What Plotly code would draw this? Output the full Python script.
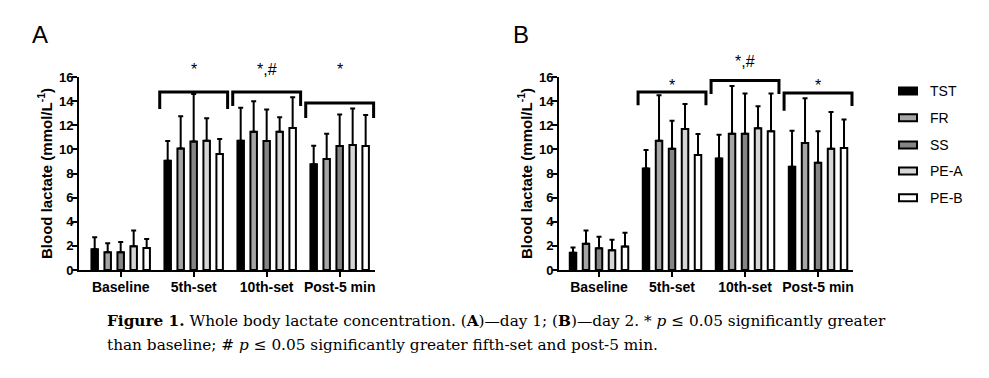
import plotly.graph_objects as go

# ---------------- data ----------------
categories = ["Baseline", "5th-set", "10th-set", "Post-5 min"]
series_names = ["TST", "FR", "SS", "PE-A", "PE-B"]

# Panel A (day 1): means and upper SD
A_TST = [1.72, 9.06, 10.72, 8.76]
A_FR = [1.47, 10.08, 11.47, 9.20]
A_SS = [1.47, 10.66, 10.69, 10.28]
A_PEA = [1.97, 10.72, 11.47, 10.36]
A_PEB = [1.83, 9.61, 11.77, 10.28]
A_TST_sd = [1.00, 1.64, 2.74, 1.54]
A_FR_sd = [0.75, 2.66, 2.52, 2.10]
A_SS_sd = [0.86, 3.94, 2.61, 2.62]
A_PEA_sd = [1.31, 1.86, 1.19, 3.02]
A_PEB_sd = [0.75, 1.25, 2.55, 2.57]

# Panel B (day 2)
B_TST = [1.42, 8.42, 9.25, 8.56]
B_FR = [2.17, 10.72, 11.30, 10.53]
B_SS = [1.80, 10.06, 11.30, 8.89]
B_PEA = [1.64, 11.69, 11.75, 10.06]
B_PEB = [1.94, 9.53, 11.50, 10.11]
B_TST_sd = [0.44, 1.52, 1.97, 2.99]
B_FR_sd = [1.11, 3.77, 3.96, 3.71]
B_SS_sd = [0.95, 2.32, 3.33, 2.61]
B_PEA_sd = [0.86, 2.08, 1.82, 3.04]
B_PEB_sd = [1.14, 1.74, 3.13, 2.36]

y_ticks = [0, 2, 4, 6, 8, 10, 12, 14, 16]

# significance labels per category (Baseline has none)
A_sig = ["", "*", "*,#", "*"]
B_sig = ["", "*", "*,#", "*"]

# ---------------- styling ----------------
fills = ["#000000", "#a6a6a6", "#858585", "#d6d6d6", "#ffffff"]
W, H = 989, 378
OFF = 8  # page body margin offset

def px(x):
    return (x - OFF) / W

def py(y):
    return 1 - (y - OFF) / H

# plot-area geometry (screen pixels)
A_dom = (79, 375)
B_dom = (559, 853)
A_rng = (-0.571, 3.484)
B_rng = (-0.548, 3.479)
y_top_px, y_bot_px = 77, 270
y_dom = [py(y_bot_px), py(y_top_px)]

def ypaper(v):
    return y_dom[0] + v / 16 * (y_dom[1] - y_dom[0])

fig = go.Figure()

panelA = [A_TST, A_FR, A_SS, A_PEA, A_PEB]
panelA_sd = [A_TST_sd, A_FR_sd, A_SS_sd, A_PEA_sd, A_PEB_sd]
panelB = [B_TST, B_FR, B_SS, B_PEA, B_PEB]
panelB_sd = [B_TST_sd, B_FR_sd, B_SS_sd, B_PEA_sd, B_PEB_sd]

xs = list(range(len(categories)))

for vals_list, sd_list, xa, ya in [(panelA, panelA_sd, "x", "y"), (panelB, panelB_sd, "x2", "y2")]:
    for i, (name, vals, sd) in enumerate(zip(series_names, vals_list, sd_list)):
        fig.add_trace(go.Bar(
            x=xs, y=vals, name=name, xaxis=xa, yaxis=ya, showlegend=False,
            marker=dict(color=fills[i], line=dict(color="black", width=2)),
            error_y=dict(type="data", symmetric=False, array=sd,
                         arrayminus=[0] * len(sd), color="black",
                         thickness=2, width=2.5),
        ))

xtickfont = dict(family="Liberation Sans", size=14, color="black", weight="bold")
ytickfont = dict(family="Liberation Sans", size=13, color="black", weight="bold")
common_x = dict(showline=True, linewidth=2, linecolor="black", ticks="outside",
                ticklen=5, tickwidth=2, tickcolor="black", showgrid=False, automargin=False,
                zeroline=False, tickvals=xs, ticktext=categories, tickfont=xtickfont,
                ticklabelstandoff=-2)
common_y = dict(showline=True, linewidth=2, linecolor="black", ticks="outside",
                ticklen=5, tickwidth=2, tickcolor="black", showgrid=False, automargin=False,
                zeroline=False, range=[0, 16], tickvals=y_ticks, tickfont=ytickfont,
                ticklabelstandoff=-4,
                title=dict(text="Blood lactate (mmol/L<sup>-1</sup>)",
                           font=dict(family="Liberation Sans", size=15, color="black",
                                     weight="bold"), standoff=3))

fig.update_layout(
    width=W, height=H, margin=dict(l=0, r=0, t=0, b=0),
    paper_bgcolor="white", plot_bgcolor="white",
    barmode="group", bargap=0.11, bargroupgap=0.5,
    xaxis=dict(domain=[px(A_dom[0]), px(A_dom[1])], range=list(A_rng), anchor="y", **common_x),
    yaxis=dict(domain=y_dom, anchor="x", **common_y),
    xaxis2=dict(domain=[px(B_dom[0]), px(B_dom[1])], range=list(B_rng), anchor="y2", **common_x),
    yaxis2=dict(domain=y_dom, anchor="x2", **common_y),
)

# ---------------- brackets & significance marks ----------------
def xpaper(dom, rng, xv):
    return px(dom[0] + (xv - rng[0]) / (rng[1] - rng[0]) * (dom[1] - dom[0]))

# (category index, bar level, left drop end, right drop end, label level)
A_brackets = [(1, 14.75, 13.35, 13.35, 16.6), (2, 14.75, 13.6, 13.6, 16.6), (3, 13.84, 12.6, 12.6, 16.6)]
B_brackets = [(1, 14.75, 13.65, 13.65, 15.3), (2, 15.7, 14.6, 14.6, 17.3), (3, 14.67, 13.2, 13.6, 15.3)]

shapes = []
annotations = []
half = 0.465
for dom, rng, br, sig, yref in [(A_dom, A_rng, A_brackets, A_sig, "y"), (B_dom, B_rng, B_brackets, B_sig, "y2")]:
    for ci, top, l_end, r_end, lab in br:
        x0 = xpaper(dom, rng, ci - half)
        x1 = xpaper(dom, rng, ci + half)
        path = f"M {x0},{l_end} L {x0},{top} L {x1},{top} L {x1},{r_end}"
        shapes.append(dict(type="path", path=path, xref="paper", yref=yref,
                           line=dict(color="black", width=3)))
        if sig[ci]:
            annotations.append(dict(x=xpaper(dom, rng, ci), y=ypaper(lab), xref="paper", yref="paper",
                                    text=sig[ci], showarrow=False, xanchor="center", yanchor="middle",
                                    font=dict(family="Liberation Sans", size=16, color="black")))

# panel letters
for letter, lx in [("A", 40), ("B", 521)]:
    annotations.append(dict(x=px(lx), y=py(34), xref="paper", yref="paper", text=letter,
                            xanchor="center", yanchor="middle", showarrow=False,
                            font=dict(family="Liberation Sans", size=24, color="black")))

# legend (drawn manually to match GraphPad swatches)
leg_rows = [91, 117.7, 145, 171, 197.7]
for i, name in enumerate(series_names):
    yc = leg_rows[i]
    shapes.append(dict(type="rect", xref="paper", yref="paper",
                       x0=px(899), x1=px(917), y0=py(yc + 3.5), y1=py(yc - 3.5),
                       fillcolor=fills[i], line=dict(color="black", width=2)))
    annotations.append(dict(x=px(928), y=py(yc), xref="paper", yref="paper", text=name,
                            xanchor="left", yanchor="middle", showarrow=False,
                            font=dict(family="Liberation Sans", size=14, color="black")))

# caption
cap1 = ("<b>Figure 1.</b> Whole body lactate concentration. (<b>A</b>)—day 1; "
        "(<b>B</b>)—day 2. * <i>p</i> ≤ 0.05 significantly greater")
cap2 = "than baseline; # <i>p</i> ≤ 0.05 significantly greater fifth-set and post-5 min."
for txt, cy in [(cap1, 321), (cap2, 345)]:
    annotations.append(dict(x=px(105), y=py(cy), xref="paper", yref="paper", text=txt,
                            xanchor="left", yanchor="middle", showarrow=False,
                            font=dict(family="DejaVu Serif", size=15.3, color="black")))

fig.update_layout(shapes=shapes, annotations=annotations)
fig.write_html("out.html")
